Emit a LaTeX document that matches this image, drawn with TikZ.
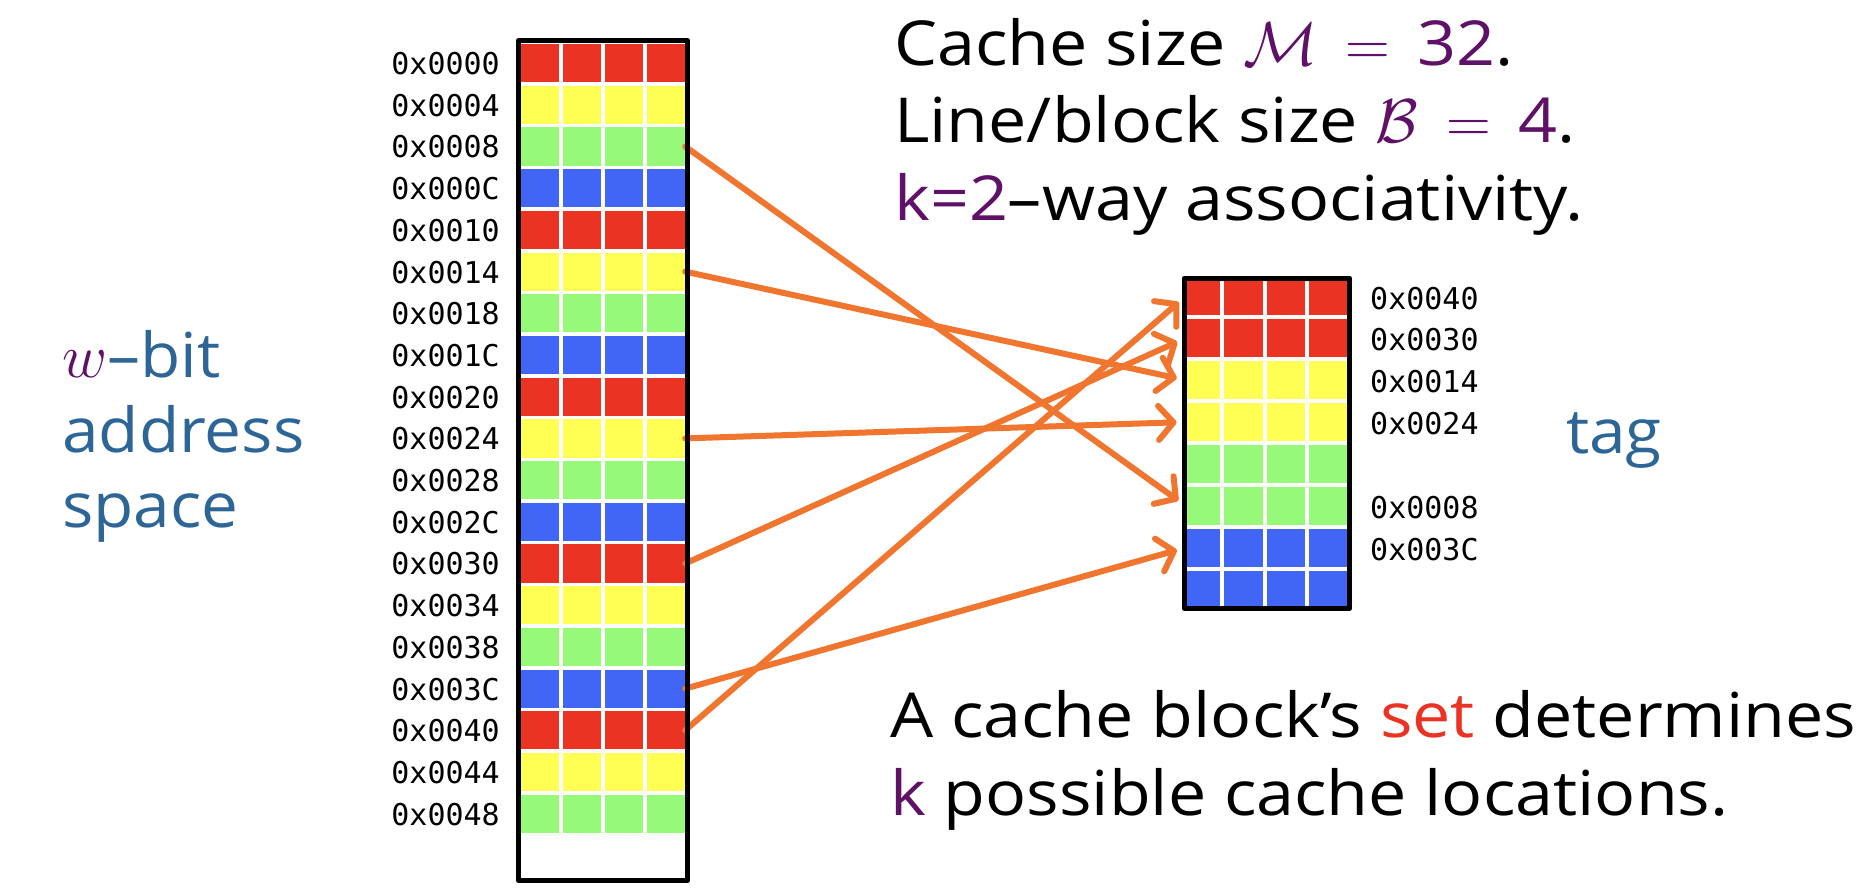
\RequirePackage{fix-cm}
\documentclass[tikz,border=0pt]{standalone}
\usepackage{fontspec}
\setmainfont{Open Sans}[FakeStretch=1.1]
\newfontfamily\sidef{Open Sans}[FakeStretch=1.06]
\newfontfamily\monof{DejaVu Sans Mono}
\usetikzlibrary{arrows.meta}
\definecolor{cred}{RGB}{234,51,35}
\definecolor{cyel}{RGB}{255,255,84}
\definecolor{cgrn}{RGB}{150,250,120}
\definecolor{cblu}{RGB}{65,102,245}
\definecolor{corange}{RGB}{240,118,48}
\definecolor{purp}{RGB}{94,17,102}
\definecolor{tblue}{RGB}{44,101,150}
\definecolor{tred}{RGB}{234,51,35}
\newcommand{\wideeq}{\mathrel{\mskip3mu=\mskip3mu}}
\begin{document}
\begin{tikzpicture}[x=1pt,y=-1pt,
  lrow/.style={draw=none, inner sep=0pt, minimum width=164pt, minimum height=38.2pt},
  crow/.style={draw=none, inner sep=0pt, minimum width=162.3pt, minimum height=37.9pt},
  addr/.style={font=\monof\fontsize{30}{30}\selectfont, inner sep=0pt},
  gap/.style={draw=white, line width=4pt},
  frame/.style={draw=black, line width=5pt, line join=round},
  link/.style={draw=corange, line width=6pt, line cap=round,
    -{Straight Barb[length=15pt,width=34pt,round]}, shorten >=9pt},
  big/.style={font=\fontsize{62}{75}\selectfont, inner sep=0pt, anchor=base west},
  side/.style={font=\sidef\fontsize{62}{75}\selectfont, inner sep=0pt, anchor=base west, text=tblue},
]
\useasboundingbox (0,0) rectangle (1874,892);
% memory rows
\foreach \i/\c/\t in {0/cred/0000,1/cyel/0004,2/cgrn/0008,3/cblu/000C,4/cred/0010,
  5/cyel/0014,6/cgrn/0018,7/cblu/001C,8/cred/0020,9/cyel/0024,10/cgrn/0028,
  11/cblu/002C,12/cred/0030,13/cyel/0034,14/cgrn/0038,15/cblu/003C,16/cred/0040,
  17/cyel/0044,18/cgrn/0048}{
  \node[lrow, fill=\c] (L\i) at (603,{63.1+41.7*\i}) {};
  \node[addr, anchor=east] (A\i) at (500,{63.6+41.7*\i}) {0x\t};
}
\foreach \x in {561,603,645}{\draw[gap] (\x,43) -- (\x,834);}
% cache rows
\foreach \j/\c in {0/cred,1/cred,2/cyel,3/cyel,4/cgrn,5/cgrn,6/cblu,7/cblu}{
  \node[crow, fill=\c] (C\j) at (1266.9,{296.3+41.9*\j}) {};
}
\foreach \x in {1222,1264.7,1307.3}{\draw[gap] (\x,278) -- (\x,608);}
% cache labels
\node[addr, anchor=west] (K0) at (1370,299) {0x0040};
\node[addr, anchor=west] (K1) at (1370,340) {0x0030};
\node[addr, anchor=west] (K2) at (1370,382) {0x0014};
\node[addr, anchor=west] (K3) at (1370,424) {0x0024};
\node[addr, anchor=west] (K5) at (1370,508) {0x0008};
\node[addr, anchor=west] (K6) at (1370,550) {0x003C};
% arrows
\draw[link] (L2.east) -- (C5.west);
\draw[link] (L5.east) -- (C2.west);
\draw[link] (L9.east) -- (C3.west);
\draw[link] (L12.east) -- (C1.west);
\draw[link] (L15.east) -- (C6.west);
\draw[link] (L16.east) -- (C0.west);
% frames
\draw[frame] (518.5,40.5) rectangle (687.5,880.5);
\draw[frame] (1184.5,278) rectangle (1349.5,608.5);
% texts
\node[big] (t1) at (894,65) {Cache size \textcolor{purp}{$\mathcal{M} \wideeq \mbox{32}$}.};
\node[big] (t2) at (894,142) {Line/block size \textcolor{purp}{$\mathcal{B} \wideeq \mbox{4}$}.};
\node[big] (t3) at (894,220) {\textcolor{purp}{k=2}\textendash way associativity.};
\node[big] (b1) at (890,737) {A cache block’s \textcolor{tred}{set} determines};
\node[big] (b2) at (890,815) {\textcolor{purp}{k} possible cache locations.};
\node[side] (w1) at (62,377) {\textcolor{purp}{$w$}\textendash bit};
\node[side] (w2) at (62,452) {address};
\node[side] (w3) at (62,527) {space};
\node[side] (tag) at (1566,453) {tag};
\end{tikzpicture}
\end{document}
